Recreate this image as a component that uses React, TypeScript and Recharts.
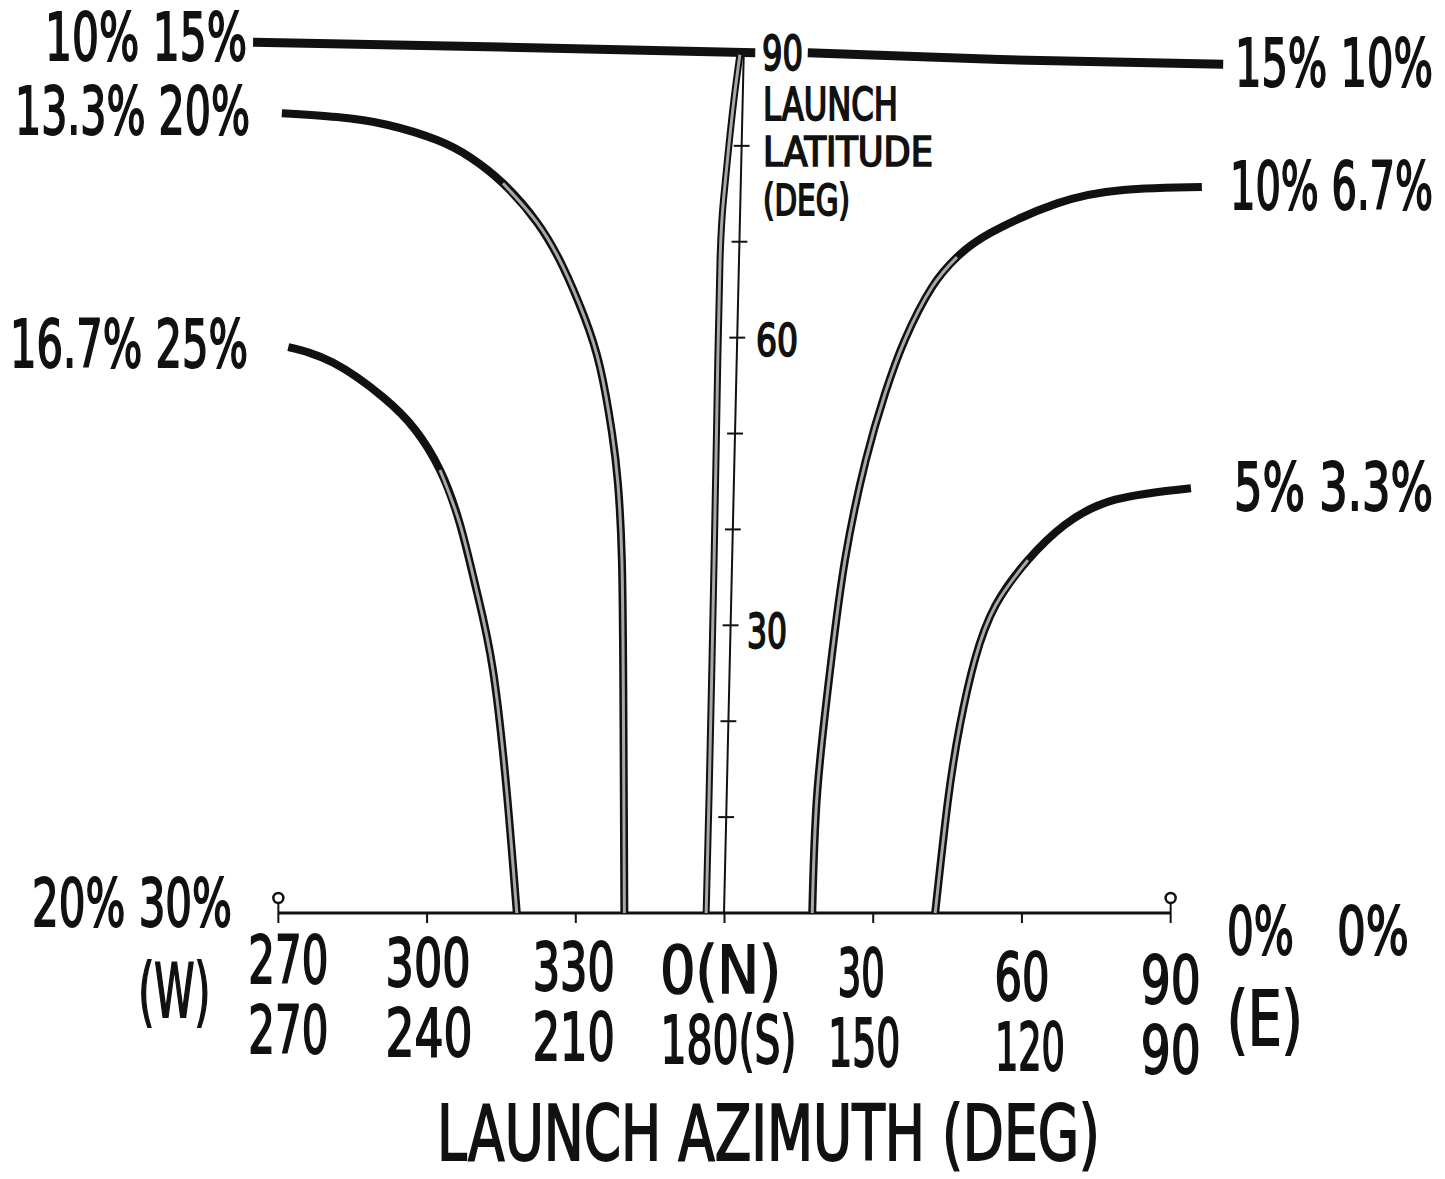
import React from 'react'
import { LineChart, Line, XAxis, YAxis, ReferenceLine } from 'recharts'

// azimuth in deg: negative = west of north (270..360), positive = east of north (0..90)
// latitude in deg. Each contour.
const topWest = [
  { az: -95.1, lat: 90.8 },
  { az: -45.3, lat: 90.3 },
  { az: 6.2, lat: 89.7 },
]
const topEast = [
  { az: 16.8, lat: 89.7 },
  { az: 55.6, lat: 89.0 },
  { az: 100.6, lat: 88.5 },
]
const curve20 = [
  { az: -89.3, lat: 83.4 },
  { az: -78.2, lat: 83.0 },
  { az: -68.1, lat: 82.2 },
  { az: -58.0, lat: 80.6 },
  { az: -51.3, lat: 78.8 },
  { az: -44.7, lat: 76.1 },
  { az: -37.8, lat: 72.0 },
  { az: -32.6, lat: 67.4 },
  { az: -28.3, lat: 62.2 },
  { az: -25.1, lat: 56.9 },
  { az: -22.7, lat: 50.1 },
  { az: -21.5, lat: 44.8 },
  { az: -20.7, lat: 36.8 },
  { az: -20.4, lat: 22.2 },
  { az: -20.2, lat: 0 },
]
const curve25 = [
  { az: -88.0, lat: 59.0 },
  { az: -79.0, lat: 57.4 },
  { az: -68.9, lat: 53.8 },
  { az: -62.4, lat: 50.4 },
  { az: -57.4, lat: 46.2 },
  { az: -53.4, lat: 40.6 },
  { az: -50.0, lat: 33.6 },
  { az: -46.7, lat: 25.3 },
  { az: -43.9, lat: 12.5 },
  { az: -41.9, lat: 0 },
]
const curveNorth = [
  { az: -3.7, lat: 0 },
  { az: -3.1, lat: 12.5 },
  { az: -2.1, lat: 36.8 },
  { az: -1.5, lat: 53.5 },
  { az: -0.9, lat: 68.1 },
  { az: -0.2, lat: 74.4 },
  { az: 0.8, lat: 79.6 },
  { az: 1.9, lat: 84.8 },
  { az: 3.1, lat: 89.5 },
]
const curve67 = [
  { az: 17.7, lat: 0 },
  { az: 18.7, lat: 12.5 },
  { az: 21.3, lat: 25.3 },
  { az: 24.3, lat: 36.8 },
  { az: 28.5, lat: 47.2 },
  { az: 32.4, lat: 54.2 },
  { az: 36.4, lat: 59.8 },
  { az: 41.9, lat: 65.3 },
  { az: 46.9, lat: 68.4 },
  { az: 53.6, lat: 70.9 },
  { az: 67.1, lat: 74.0 },
  { az: 80.4, lat: 75.4 },
  { az: 96.3, lat: 75.7 },
]
const curve33 = [
  { az: 42.5, lat: 0 },
  { az: 45.1, lat: 11.8 },
  { az: 47.5, lat: 19.6 },
  { az: 50.5, lat: 26.4 },
  { az: 54.7, lat: 32.1 },
  { az: 61.2, lat: 36.8 },
  { az: 68.7, lat: 40.5 },
  { az: 78.8, lat: 43.1 },
  { az: 94.1, lat: 44.3 },
]

const AZ_TICKS = [-90, -60, -30, 0, 30, 60, 90]
const AZ_TOP_LABELS = ['270', '300', '330', '0(N)', '30', '60', '90']
const AZ_BOTTOM_LABELS = ['270', '240', '210', '180(S)', '150', '120', '90']
const LAT_MINOR = [10, 20, 30, 40, 50, 60, 70, 80]

const INK = '#111'
const FONT = '"DejaVu Sans Condensed", "DejaVu Sans", sans-serif'
const HOLLOW = '#a8a8a8'
// the drawn latitude axis leans a little to the east toward its top
const AXIS_LEAN = 3.9

const leanAz = (lat: number) => -0.1 + (AXIS_LEAN + 0.1) * lat / 90

// lettering in the original is tall and narrow: squeeze the glyphs to the measured width
let measureCtx: CanvasRenderingContext2D | null = null
const naturalWidth = (s: string, size: number) => {
  if (!measureCtx) measureCtx = document.createElement('canvas').getContext('2d')
  if (!measureCtx) return s.length * size * 0.6
  measureCtx.font = `${size}px ${FONT}`
  return measureCtx.measureText(s).width
}

const Txt = ({ x, y, w, size, children }: { x: number; y: number; w: number; size: number; children: string }) => {
  const sx = w / naturalWidth(children, size)
  return (
    <text transform={`translate(${x},${y}) scale(${sx},1)`} fontSize={size} fontFamily={FONT}
      fill={INK} stroke={INK} strokeWidth={1.6} vectorEffect="non-scaling-stroke">{children}</text>
  )
}

// per tick: horizontal offset of each label row and its width
const tickLayout = [
  { d1: 10, w1: 80, d2: 10, w2: 80 },
  { d1: 1, w1: 85, d2: 2, w2: 87 },
  { d1: -2, w1: 82, d2: -2, w2: 82 },
  { d1: -4, w1: 121, d2: 4, w2: 136 },
  { d1: -12, w1: 47, d2: -9, w2: 72 },
  { d1: 0, w1: 55, d2: 8, w2: 70 },
  { d1: 0, w1: 60, d2: 0, w2: 60 },
]

const AzTick = (props: any) => {
  const { x, y, payload } = props
  const i = AZ_TICKS.indexOf(payload.value)
  if (i < 0) return null
  const axisY = y - 10
  const lay = tickLayout[i]
  const tilt = (i / 6) * 20
  const cx1 = x + lay.d1
  const cx2 = x + lay.d2
  return (
    <g>
      {(i === 0 || i === 6) && (
        <g>
          <line x1={x} x2={x} y1={axisY - 10} y2={axisY} stroke={INK} strokeWidth={2} />
          <circle cx={x} cy={axisY - 15} r={5} fill="#fff" stroke={INK} strokeWidth={2.5} />
        </g>
      )}
      <Txt x={cx1 - lay.w1 / 2} y={axisY + 70 + tilt} w={lay.w1} size={65}>{AZ_TOP_LABELS[i]}</Txt>
      <Txt x={cx2 - lay.w2 / 2} y={axisY + 140 + tilt} w={lay.w2} size={65}>{AZ_BOTTOM_LABELS[i]}</Txt>
      {i === 0 && <Txt x={x - 140} y={axisY + 104} w={72} size={74}>(W)</Txt>}
      {i === 6 && <Txt x={x + 56} y={axisY + 132} w={76} size={74}>(E)</Txt>}
    </g>
  )
}

const solid = { stroke: INK, dot: false, activeDot: false, isAnimationActive: false, type: 'natural' as const, dataKey: 'lat' }

export default function App() {
  return (
    <div style={{ position: 'absolute', left: 0, top: 0, width: 1445, height: 1179, background: '#fff' }}>
      <LineChart width={1445} height={1179} margin={{ top: 2, right: 200, bottom: 106, left: 204 }}>
        <XAxis type="number" dataKey="az" domain={[-105, 105]} ticks={AZ_TICKS} interval={0}
          allowDataOverflow axisLine={false} tickSize={10} tickMargin={0}
          tickLine={{ stroke: INK, strokeWidth: 2 }} tick={<AzTick />} height={160} />
        <YAxis type="number" domain={[0, 95]} allowDataOverflow hide />

        <ReferenceLine segment={[{ x: -90, y: 0 }, { x: 90, y: 0 }]} stroke={INK} strokeWidth={3} ifOverflow="visible" />
        <ReferenceLine segment={[{ x: leanAz(0), y: 0 }, { x: leanAz(90), y: 90 }]} stroke={INK} strokeWidth={2} ifOverflow="visible" />
        {LAT_MINOR.map((lat) => (
          <ReferenceLine key={lat} segment={[{ x: leanAz(lat) - 1.6, y: lat }, { x: leanAz(lat) + 1.6, y: lat }]}
            stroke={INK} strokeWidth={2} ifOverflow="visible" />
        ))}

        <Line {...solid} data={topWest} strokeWidth={9} />
        <Line {...solid} data={topEast} strokeWidth={9} />
        <Line {...solid} data={curve20} strokeWidth={8} />
        <Line {...solid} data={curve20.slice(5)} strokeWidth={3} stroke={HOLLOW} />
        <Line {...solid} data={curve25} strokeWidth={8} />
        <Line {...solid} data={curve25.slice(4)} strokeWidth={3} stroke={HOLLOW} />
        <Line {...solid} data={curveNorth} strokeWidth={7} />
        <Line {...solid} data={curveNorth} strokeWidth={3} stroke={HOLLOW} />
        <Line {...solid} data={curve67} strokeWidth={8} />
        <Line {...solid} data={curve67.slice(0, 9)} strokeWidth={3} stroke={HOLLOW} />
        <Line {...solid} data={curve33} strokeWidth={8} />
        <Line {...solid} data={curve33.slice(0, 6)} strokeWidth={3} stroke={HOLLOW} />
      </LineChart>

      <svg width={1445} height={1179} style={{ position: 'absolute', left: 0, top: 0, pointerEvents: 'none' }}>
        <Txt x={45} y={60} w={202} size={65}>10% 15%</Txt>
        <Txt x={15} y={134} w={235} size={65}>13.3% 20%</Txt>
        <Txt x={10} y={367} w={238} size={65}>16.7% 25%</Txt>
        <Txt x={32} y={926} w={200} size={65}>20% 30%</Txt>

        <Txt x={1235} y={86} w={198} size={65}>15% 10%</Txt>
        <Txt x={1230} y={209} w={203} size={65}>10% 6.7%</Txt>
        <Txt x={1234} y={510} w={199} size={65}>5% 3.3%</Txt>
        <Txt x={1227} y={954} w={67} size={65}>0%</Txt>
        <Txt x={1337} y={954} w={72} size={65}>0%</Txt>

        <Txt x={762} y={70} w={41} size={48}>90</Txt>
        <Txt x={763} y={120} w={135} size={45}>LAUNCH</Txt>
        <Txt x={763} y={166} w={170} size={40}>LATITUDE</Txt>
        <Txt x={763} y={215} w={87} size={42}>(DEG)</Txt>
        <Txt x={756} y={356} w={42} size={44}>60</Txt>
        <Txt x={747} y={648} w={40} size={48}>30</Txt>

        <Txt x={437} y={1160} w={663} size={76}>LAUNCH AZIMUTH (DEG)</Txt>
      </svg>
    </div>
  )
}
